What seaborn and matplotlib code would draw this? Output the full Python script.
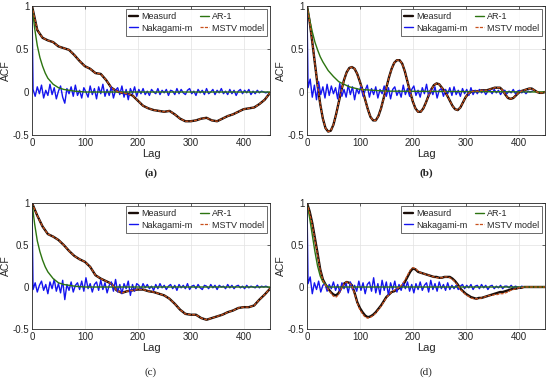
import matplotlib
matplotlib.use("Agg")
import matplotlib.pyplot as plt
import seaborn as sns

# --------------------------------------------------
# DATA
# --------------------------------------------------

lag_10 = list(range(0, 451, 10))
lag_5 = list(range(0, 451, 5))
ar_lags = [0, 5, 10, 15, 20, 25, 30, 40, 50, 60, 80, 100, 150, 450]

meas_a = [1.0, 0.72, 0.63, 0.60, 0.58, 0.53, 0.51, 0.49, 0.43, 0.36,
          0.30, 0.27, 0.22, 0.21, 0.14, 0.05, 0.01, -0.01, -0.02, -0.04,
          -0.10, -0.16, -0.19, -0.21, -0.22, -0.23, -0.22, -0.26, -0.31, -0.34,
          -0.34, -0.33, -0.31, -0.30, -0.33, -0.34, -0.31, -0.28, -0.26, -0.23,
          -0.20, -0.19, -0.18, -0.14, -0.09, -0.01]

meas_b = [1.0, 0.82, 0.58, 0.33, 0.08, -0.14, -0.31, -0.42, -0.46, -0.45,
          -0.38, -0.26, -0.12, 0.02, 0.14, 0.23, 0.28, 0.29, 0.27, 0.21,
          0.12, 0.02, -0.09, -0.20, -0.29, -0.33, -0.33, -0.28, -0.19, -0.07,
          0.05, 0.17, 0.27, 0.34, 0.37, 0.37, 0.33, 0.24, 0.12, 0.00,
          -0.11, -0.19, -0.23, -0.23, -0.19, -0.12, -0.04, 0.03, 0.08, 0.10,
          0.09, 0.05, 0.01, -0.04, -0.10, -0.16, -0.20, -0.21, -0.18, -0.12,
          -0.06, -0.02, 0.00, 0.01, 0.01, 0.01, 0.02, 0.02, 0.02, 0.03,
          0.04, 0.05, 0.05, 0.05, 0.02, -0.03, -0.07, -0.08, -0.07, -0.04,
          -0.01, 0.01, 0.02, 0.03, 0.04, 0.04, 0.02, 0.00, -0.01, -0.01, 0.00]

meas_c = [1.0, 0.85, 0.72, 0.63, 0.60, 0.56, 0.50, 0.43, 0.37, 0.33,
          0.30, 0.24, 0.14, 0.10, 0.07, 0.04, -0.04, -0.07, -0.05, -0.04,
          -0.03, -0.03, -0.05, -0.06, -0.08, -0.10, -0.14, -0.20, -0.27, -0.32,
          -0.33, -0.33, -0.37, -0.39, -0.37, -0.35, -0.33, -0.30, -0.28, -0.25,
          -0.24, -0.24, -0.22, -0.15, -0.09, -0.02]

meas_d = [1.0, 0.90, 0.76, 0.58, 0.40, 0.21, 0.09, 0.03, -0.02, -0.06,
          -0.09, -0.10, -0.07, -0.01, 0.04, 0.06, 0.05, 0.02, -0.07, -0.18,
          -0.25, -0.30, -0.34, -0.36, -0.35, -0.33, -0.30, -0.26, -0.22, -0.17,
          -0.12, -0.09, -0.06, -0.05, -0.03, -0.01, 0.01, 0.06, 0.12, 0.18,
          0.22, 0.21, 0.18, 0.17, 0.16, 0.15, 0.14, 0.13, 0.12, 0.12,
          0.11, 0.11, 0.12, 0.12, 0.12, 0.10, 0.07, 0.03, -0.02, -0.05,
          -0.08, -0.10, -0.12, -0.13, -0.14, -0.13, -0.13, -0.12, -0.11, -0.10,
          -0.09, -0.08, -0.07, -0.06, -0.06, -0.05, -0.04, -0.03, -0.02, -0.02,
          -0.01, -0.01, 0.00, 0.00, 0.00, 0.00, 0.00, 0.00, 0.00, 0.00, 0.00]

mstv_d = [1.0, 0.88, 0.74, 0.56, 0.38, 0.20, 0.08, 0.02, -0.03, -0.07,
          -0.11, -0.12, -0.09, -0.02, 0.04, 0.06, 0.05, 0.01, -0.08, -0.19,
          -0.27, -0.32, -0.36, -0.37, -0.36, -0.34, -0.31, -0.27, -0.23, -0.18,
          -0.13, -0.09, -0.06, -0.04, -0.02, 0.00, 0.03, 0.08, 0.14, 0.20,
          0.23, 0.22, 0.19, 0.17, 0.16, 0.15, 0.14, 0.13, 0.12, 0.11,
          0.11, 0.11, 0.12, 0.12, 0.11, 0.09, 0.06, 0.02, -0.03, -0.06,
          -0.09, -0.11, -0.13, -0.14, -0.14, -0.14, -0.13, -0.12, -0.11, -0.10,
          -0.10, -0.09, -0.09, -0.08, -0.08, -0.07, -0.06, -0.04, -0.03, -0.02,
          -0.01, -0.01, 0.00, 0.00, 0.00, 0.00, 0.00, 0.00, 0.00, 0.00, 0.00]

ar_a = [1.0, 0.74, 0.54, 0.40, 0.30, 0.22, 0.16, 0.09, 0.05, 0.03, 0.01, 0.0, 0.0, 0.0]
ar_b = [1.0, 0.84, 0.70, 0.58, 0.49, 0.41, 0.35, 0.25, 0.18, 0.12, 0.06, 0.03, 0.01, 0.0]
ar_c = [1.0, 0.75, 0.55, 0.42, 0.32, 0.24, 0.18, 0.10, 0.05, 0.03, 0.01, 0.0, 0.0, 0.0]
ar_d = [1.0, 0.82, 0.62, 0.42, 0.25, 0.13, 0.06, 0.0, 0.0, 0.0, 0.0, 0.0, 0.0, 0.0]

# Nakagami-m ACF: value at lag 0, then one sample every 4 lags from lag 2
nak_a = [1.0,
         0.03, -0.05, 0.06, -0.02, 0.08, -0.07, 0.02, -0.04, 0.09, -0.03,
         0.05, -0.08, 0.01, 0.07, -0.06, -0.13, 0.04, -0.02, 0.06, -0.05,
         0.08, -0.04, 0.02, -0.07, 0.05, 0.00, -0.06, 0.07, -0.03, 0.04,
         -0.08, 0.06, -0.02, 0.09, -0.05, 0.03, -0.04, 0.06, -0.07, 0.02,
         0.05, -0.03, 0.07, -0.06, 0.03, -0.09, 0.04, -0.02, 0.06, -0.05,
         0.03, -0.02, 0.04, -0.03, 0.01, -0.04, 0.03, 0.00, -0.02, 0.04,
         -0.03, 0.02, -0.01, 0.03, -0.04, 0.02, 0.01, -0.03, 0.04, -0.02,
         0.03, -0.01, -0.03, 0.02, 0.04, -0.02, 0.01, -0.04, 0.03, -0.01,
         0.02, -0.03, 0.04, -0.02, 0.00, 0.03, -0.03, 0.02, -0.01, 0.04,
         -0.02, 0.01, -0.03, 0.03, -0.02, 0.02, -0.04, 0.01, 0.03, -0.02,
         0.02, -0.01, 0.03, -0.03, 0.01, -0.02, 0.02, -0.01, 0.01, 0.00,
         -0.01, 0.00]

nak_b = [1.0,
         0.05, 0.15, -0.06, 0.08, -0.09, 0.12, -0.03, 0.06, -0.07, 0.09,
         -0.04, 0.07, -0.02, 0.05, -0.08, 0.10, -0.05, 0.03, -0.06, 0.08,
         -0.03, 0.06, -0.09, 0.04, -0.02, 0.07, -0.05, 0.02, 0.08, -0.06,
         0.04, -0.03, 0.06, -0.07, 0.03, -0.02, 0.07, -0.05, 0.05, -0.08,
         0.03, 0.06, -0.04, 0.02, -0.06, 0.08, -0.03, 0.04, -0.05, 0.03,
         0.07, -0.04, 0.02, -0.06, 0.05, -0.02, 0.09, -0.05, 0.03, -0.03,
         0.06, -0.07, 0.02, 0.04, -0.05, 0.03, -0.02, 0.05, -0.04, 0.06,
         -0.03, 0.02, -0.05, 0.04, -0.02, 0.03, -0.04, 0.05, -0.03, 0.02,
         -0.02, 0.03, -0.01, 0.02, -0.03, 0.01, 0.02, -0.02, 0.03, -0.01,
         0.02, -0.03, 0.01, 0.02, -0.02, 0.01, -0.01, 0.03, -0.02, 0.01,
         0.02, -0.01, 0.01, -0.02, 0.01, 0.00, 0.01]

nak_c = [1.0,
         -0.03, 0.05, -0.06, 0.02, 0.07, -0.04, 0.03, -0.08, 0.06, -0.02,
         0.09, -0.05, 0.04, -0.07, 0.08, -0.15, 0.03, -0.04, 0.06, -0.06,
         0.02, 0.05, -0.03, 0.07, -0.05, 0.11, -0.02, 0.04, -0.06, 0.03,
         0.06, -0.04, 0.08, -0.03, 0.05, -0.07, 0.02, 0.06, -0.05, 0.09,
         -0.06, 0.03, -0.08, 0.04, -0.02, 0.07, -0.10, 0.03, -0.05, 0.04,
         0.02, -0.03, 0.04, -0.01, 0.03, -0.02, 0.01, -0.04, 0.03, -0.02,
         0.04, -0.01, 0.02, -0.03, 0.01, 0.03, -0.02, 0.02, -0.04, 0.03,
         -0.01, 0.02, -0.02, 0.04, -0.03, 0.01, 0.02, -0.02, 0.03, -0.01,
         -0.03, 0.02, 0.01, -0.02, 0.03, -0.01, 0.02, -0.03, 0.02, 0.00,
         0.01, -0.02, 0.03, -0.01, 0.02, -0.02, 0.01, 0.02, -0.01, 0.01,
         -0.02, 0.02, -0.01, 0.01, 0.00, -0.01, 0.02, -0.01, 0.01, 0.00,
         0.01, 0.00]

nak_d = [1.0,
         0.04, 0.12, -0.08, 0.05, -0.03, 0.07, -0.06, 0.02, 0.04, -0.05,
         0.03, -0.02, 0.06, -0.04, 0.03, -0.06, 0.05, -0.02, 0.04, -0.07,
         0.06, -0.03, 0.02, -0.05, 0.07, -0.04, 0.05, -0.08, 0.03, 0.06,
         -0.05, 0.11, -0.07, 0.04, -0.09, 0.08, -0.04, 0.06, -0.10, 0.05,
         -0.03, 0.07, -0.06, 0.03, -0.04, 0.05, -0.02, 0.06, -0.05, 0.03,
         -0.07, 0.04, -0.03, 0.06, -0.04, 0.02, 0.05, -0.06, 0.08, -0.03,
         0.04, -0.05, 0.06, -0.02, 0.03, -0.04, 0.05, -0.03, 0.02, -0.02,
         0.02, -0.03, 0.01, 0.03, -0.02, 0.02, -0.01, 0.03, -0.03, 0.01,
         0.02, -0.02, 0.03, -0.01, 0.02, -0.03, 0.01, 0.02, -0.02, 0.01,
         -0.01, 0.02, -0.02, 0.01, 0.01, -0.01, 0.02, -0.01, 0.01, 0.00,
         -0.01, 0.01, 0.00]

x_ticks = [0, 100, 200, 300, 400]
y_ticks = [-0.5, 0, 0.5, 1]
y_tick_labels = ["-0.5", "0", "0.5", "1"]

# --------------------------------------------------
# STYLE
# --------------------------------------------------

sns.set_theme(style="whitegrid")
plt.rcParams["font.family"] = ["Liberation Sans", "DejaVu Sans"]

C_MEAS = "#1a0d08"
C_NAK = "#1414ee"
C_AR = "#2c7410"
C_MSTV = "#c8501c"


def nak_lags(values):
    return [0] + [2 + 4 * i for i in range(len(values) - 1)]


panels = [
    # caption, bold, axes rect, measured (x, y), mstv (x, y), ar, nakagami
    ("(a)", True, [32 / 550, 1 - 135 / 383, 238 / 550, 129 / 383],
     (lag_10, meas_a), (lag_10, meas_a), ar_a, nak_a),
    ("(b)", True, [307 / 550, 1 - 135 / 383, 238 / 550, 129 / 383],
     (lag_5, meas_b), (lag_5, meas_b), ar_b, nak_b),
    ("(c)", False, [32 / 550, 1 - 329 / 383, 238 / 550, 126 / 383],
     (lag_10, meas_c), (lag_10, meas_c), ar_c, nak_c),
    ("(d)", False, [307 / 550, 1 - 329 / 383, 238 / 550, 126 / 383],
     (lag_5, meas_d), (lag_5, mstv_d), ar_d, nak_d),
]

fig = plt.figure(figsize=(5.5, 3.83), dpi=100)

for caption, bold, rect, meas, mstv, ar, nak in panels:

    ax = fig.add_axes(rect)

    sns.lineplot(x=meas[0], y=meas[1], ax=ax, color=C_MEAS, lw=1.7,
                 label="Measurd", sort=False)
    sns.lineplot(x=nak_lags(nak), y=nak, ax=ax, color=C_NAK, lw=1.0,
                 label="Nakagami-m", sort=False)
    sns.lineplot(x=ar_lags, y=ar, ax=ax, color=C_AR, lw=1.0,
                 label="AR-1", sort=False)
    sns.lineplot(x=mstv[0], y=mstv[1], ax=ax, color=C_MSTV, lw=0.9,
                 linestyle=(0, (2.5, 1)), label="MSTV model", sort=False)

    ax.set_xlim(0, 450)
    ax.set_ylim(-0.5, 1)
    ax.set_xticks(x_ticks)
    ax.set_yticks(y_ticks)
    ax.set_yticklabels(y_tick_labels)
    ax.tick_params(labelsize=7, length=2.5, width=0.5, direction="in",
                   top=True, right=True, pad=2, colors="#262626")
    ax.grid(True, color="#e2e2e2", lw=0.5)
    for spine in ax.spines.values():
        spine.set_color("#262626")
        spine.set_linewidth(0.6)

    ax.set_xlabel("Lag", fontsize=8, labelpad=1, color="#262626")
    ax.set_ylabel("ACF", fontsize=7.5, labelpad=1, color="#262626")

    handles, labels = ax.get_legend_handles_labels()
    leg = ax.legend(handles, labels, ncol=2, loc="upper right",
                    fontsize=6.5, frameon=True, fancybox=False,
                    handlelength=1.0, handletextpad=0.3, columnspacing=0.9,
                    borderpad=0.35, labelspacing=0.3,
                    borderaxespad=0.3)
    leg.get_frame().set_edgecolor("#262626")
    leg.get_frame().set_linewidth(0.6)

    cx = rect[0] + rect[2] / 2
    cy = rect[1] - 38 / 383 if bold else rect[1] - 43 / 383
    fig.text(cx, cy, caption, ha="center", va="center", fontsize=8,
             family=["Liberation Serif", "DejaVu Serif"],
             fontweight="bold" if bold else "normal")

fig.savefig("out.png", dpi=100)
